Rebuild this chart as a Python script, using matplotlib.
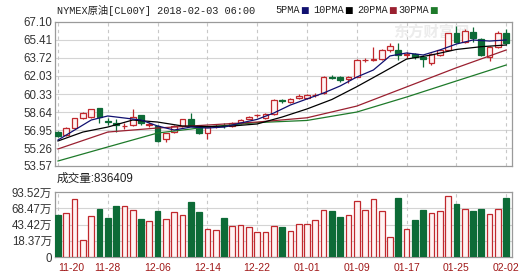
import numpy as np
import matplotlib.pyplot as plt

# candle data (bar index = trading day)
opens = [56.81, 56.48, 57.17, 58.05, 58.15, 58.99, 57.76, 57.60, 57.30, 57.42,
         58.36, 57.46, 57.33, 56.08, 56.80, 57.33, 57.96, 57.20, 56.70, 57.30,
         57.36, 57.33, 57.58, 58.00, 58.33, 58.10, 58.43, 59.74, 59.56, 60.00,
         60.00, 60.20, 60.40, 61.93, 61.96, 61.72, 61.96, 63.50, 63.55, 63.60,
         64.47, 64.47, 64.04, 64.06, 63.84, 63.28, 64.00, 64.47, 66.04, 65.25,
         66.19, 65.47, 63.84, 64.78, 66.04]
closes = [56.39, 57.14, 58.05, 58.52, 58.90, 58.15, 57.70, 57.40, 57.36, 58.20,
          57.58, 57.50, 55.92, 56.64, 57.33, 57.96, 57.42, 56.70, 57.20, 57.36,
          57.30, 57.64, 57.89, 58.20, 58.38, 58.45, 59.77, 59.70, 59.87, 60.15,
          60.20, 60.26, 61.96, 61.88, 61.65, 61.96, 63.53, 63.55, 63.62, 64.47,
          64.84, 64.00, 64.08, 63.78, 63.60, 64.06, 64.47, 66.04, 65.25, 66.28,
          65.57, 64.00, 64.78, 66.04, 65.10]
highs = [56.90, 57.20, 58.10, 58.60, 58.95, 59.00, 58.10, 58.00, 57.60, 58.93,
         58.40, 57.70, 57.40, 56.70, 57.40, 58.00, 58.52, 57.30, 57.25, 57.50,
         57.60, 57.70, 57.95, 58.30, 58.50, 58.55, 59.85, 59.90, 59.95, 60.30,
         60.30, 60.45, 62.05, 62.10, 62.00, 62.00, 63.60, 63.75, 64.78, 64.55,
         65.10, 65.10, 64.30, 64.20, 64.00, 64.20, 64.60, 66.10, 66.72, 66.40,
         66.60, 65.55, 64.85, 66.30, 66.45]
lows = [56.30, 56.40, 57.10, 58.00, 58.10, 57.62, 57.42, 56.80, 57.00, 57.30,
        57.40, 57.20, 55.85, 55.85, 56.70, 57.25, 57.35, 56.60, 56.10, 57.10,
        57.10, 57.25, 57.50, 57.95, 58.20, 58.00, 58.35, 59.50, 59.50, 59.85,
        59.90, 60.05, 60.30, 61.70, 61.45, 61.35, 61.90, 63.30, 63.40, 63.50,
        64.30, 63.50, 63.70, 63.60, 62.90, 63.10, 63.90, 64.40, 65.10, 65.10,
        65.20, 63.90, 63.40, 64.70, 64.90]
# volume in 万
volumes = [58.2, 60.8, 82.8, 19.7, 56.2, 67.4, 53.6, 72.0, 71.5, 65.8,
           52.0, 48.9, 64.3, 51.5, 62.8, 58.2, 78.1, 62.8, 36.6, 35.1,
           53.6, 41.3, 42.8, 39.3, 32.0, 32.0, 41.8, 39.3, 33.6, 43.9,
           43.9, 50.5, 65.8, 64.3, 55.1, 57.7, 79.7, 65.8, 82.8, 64.3,
           24.4, 84.3, 36.6, 50.5, 65.8, 61.2, 64.3, 86.9, 75.1, 67.4,
           64.3, 67.4, 59.7, 67.4, 83.64]

ma5_idx = list(range(0, 55, 2))
ma5 = [56.01, 56.95, 57.89, 58.27, 58.08, 57.89, 57.33, 56.95, 57.23, 57.14,
       57.23, 57.61, 57.95, 58.55, 59.30, 59.87, 60.43, 61.09, 61.93, 62.59,
       63.91, 64.19, 64.00, 64.47, 65.03, 65.41, 65.31, 65.41]
ma10_idx = list(range(0, 55, 3))
ma10 = [55.92, 56.76, 57.23, 57.89, 57.70, 57.33, 57.28, 57.33, 57.52, 58.17,
        58.93, 59.82, 61.02, 62.31, 63.62, 64.00, 64.52, 64.78, 64.94]
ma20_idx = list(range(0, 55, 6))
ma20 = [55.17, 56.76, 57.14, 57.42, 57.70, 58.10, 59.20, 61.00, 62.80, 64.47]
ma30_idx = list(range(0, 55, 6))
ma30 = [54.04, 55.36, 56.67, 57.23, 57.65, 57.85, 58.64, 60.05, 61.56, 63.06]

date_labels = ['11-20', '11-28', '12-06', '12-14', '12-22',
               '01-01', '01-09', '01-17', '01-25', '02-02']
price_ticks = [53.57, 55.26, 56.95, 58.64, 60.33, 62.03, 63.72, 65.41, 67.10]
vol_ticks = [18.37, 43.42, 68.47, 93.52]

RED = '#c0282d'
PINK = '#fff3f3'
GREEN = '#0d6b37'
FONT = ['Liberation Sans', 'Noto Sans CJK SC']
W, H = 530, 276

fig = plt.figure(figsize=(5.3, 2.76), dpi=100)
fig.patch.set_facecolor('white')
ax = fig.add_axes([55 / W, 1 - 166 / H, 457 / W, 144 / H])
vax = fig.add_axes([55 / W, 1 - 257 / H, 457 / W, 65 / H])

n = len(opens)
idx = np.arange(n)
o = np.array(opens); c = np.array(closes)
up = c >= o
col = np.where(up, RED, GREEN)
face = np.where(up, PINK, GREEN)
tick_pos = list(range(0, n, 6))

# --- price panel
for y in price_ticks[1:-1]:
    ax.axhline(y, color='#d4d4d4', lw=0.8, zorder=0)
for x in tick_pos:
    ax.axvline(x, color='#c8c8c8', lw=0.8, ls=(0, (3, 3)), zorder=0)
ax.vlines(idx, lows, highs, colors=col, lw=0.9, zorder=2)
body = np.maximum(np.abs(c - o), 0.02)
ax.bar(idx, body, bottom=np.minimum(o, c), width=0.68, color=face,
       edgecolor=col, linewidth=0.9, zorder=3)
ax.plot(ma30_idx, ma30, color='#1e7a2a', lw=0.9, zorder=4)
ax.plot(ma20_idx, ma20, color='#9a2030', lw=0.9, zorder=4)
ax.plot(ma10_idx, ma10, color='black', lw=0.9, zorder=4)
ax.plot(ma5_idx, ma5, color='#101070', lw=0.9, zorder=4)
ax.set_xlim(-0.36, 54.7)
ax.set_ylim(price_ticks[0], price_ticks[-1])
ax.set_yticks(price_ticks)
ax.set_yticklabels(['%.2f' % t for t in price_ticks])
ax.set_xticks([])
ax.text(45, 66.1, '东方财富网', fontsize=11, color='#ececec', family=FONT,
        ha='center', va='center', fontweight='bold', zorder=1)

# --- volume panel
vol_lo = vol_ticks[0] - (vol_ticks[1] - vol_ticks[0])
vt = [vol_lo] + vol_ticks
for y in vt[1:-1]:
    vax.axhline(y, color='#d4d4d4', lw=0.8, zorder=0)
for x in tick_pos:
    vax.axvline(x, color='#c8c8c8', lw=0.8, ls=(0, (3, 3)), zorder=0)
v = np.array(volumes)
vax.bar(idx, v - vol_lo, bottom=vol_lo, width=0.68, color=face,
        edgecolor=col, linewidth=0.9, zorder=3)
vax.set_xlim(-0.36, 54.7)
vax.set_ylim(vol_lo, vol_ticks[-1])
vax.set_yticks(vt)
vax.set_yticklabels(['0'] + ['%.2f万' % t for t in vol_ticks])
vax.set_xticks(tick_pos)
vax.set_xticklabels(date_labels)
vax.get_xticklabels()[0].set_ha('left')

for a in (ax, vax):
    for s in a.spines.values():
        s.set_color('#9a9a9a')
        s.set_linewidth(0.9)
    a.tick_params(length=0, pad=2)
    for t in a.get_yticklabels():
        t.set_family(FONT); t.set_fontsize(8.3); t.set_color('#333333')
for t in vax.get_xticklabels():
    t.set_family(FONT); t.set_fontsize(7.5); t.set_color('#a01818')
vax.tick_params(axis='x', pad=4)

# --- header texts
ty = 1 - 10 / H
fig.text(57 / W, ty, 'NYMEX原油[CL00Y] 2018-02-03 06:00', fontsize=7.4,
         family=['Liberation Mono', 'Noto Sans CJK SC'], va='center', color='#222222')
legend_items = [('5PMA', '#101070', 275), ('10PMA', 'black', 313),
                ('20PMA', '#9a2030', 357), ('30PMA', '#1e7a2a', 398)]
for name, clr, px in legend_items:
    fig.text(px / W, ty, name, fontsize=7.4, family=['Liberation Mono'],
             va='center', color='#222222')
    fig.text((px + len(name) * 6.1 + 1) / W, ty, '■', fontsize=6.5, color=clr,
             va='center', family=['DejaVu Sans'])
fig.text(57 / W, 1 - 179 / H, '成交量:836409', fontsize=8.4, family=FONT,
         va='center', color='#222222')

fig.savefig('out.png', dpi=100)
